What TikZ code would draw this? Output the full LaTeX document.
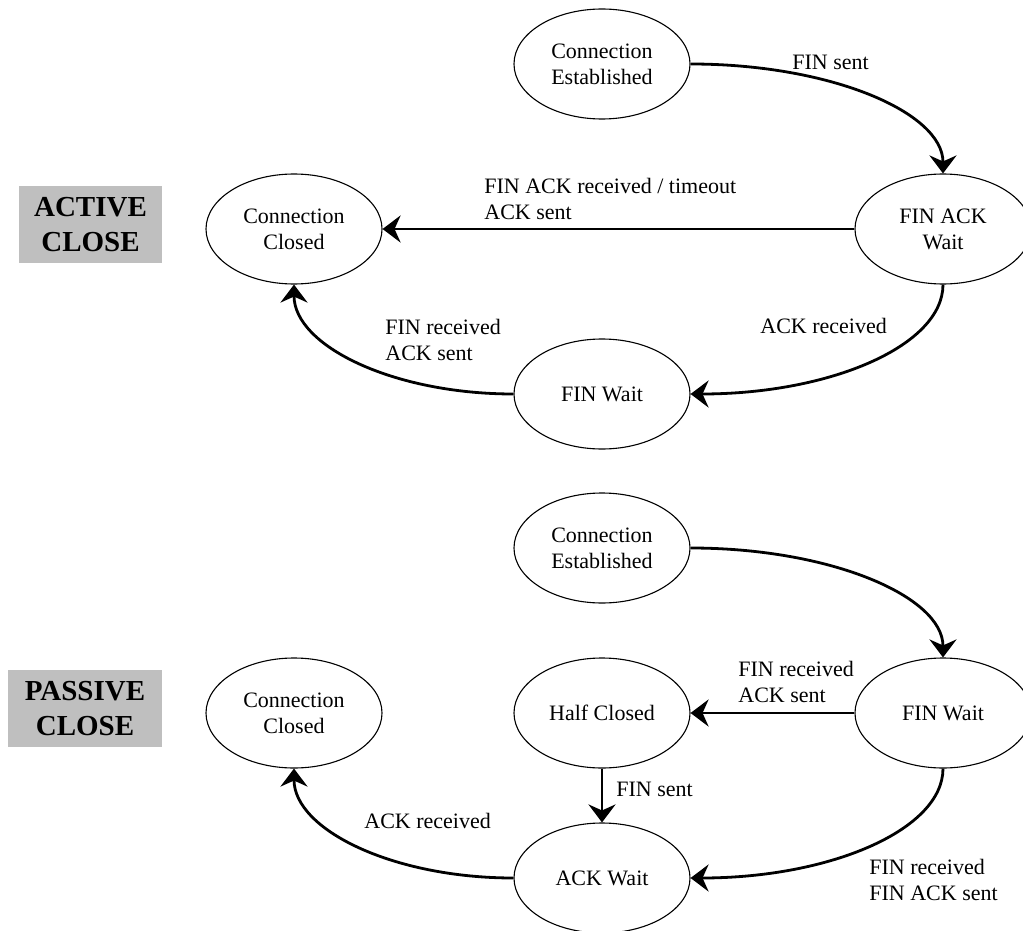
\documentclass[tikz,border=0pt]{standalone}
\usepackage{fontspec}
\setmainfont{Liberation Serif}
\usetikzlibrary{arrows.meta,automata,positioning}
\usetikzlibrary{shapes}

\begin{document}
\begin{tikzpicture}[->,>={Stealth[length=18pt,width=27pt,inset=6pt]},x=1pt,y=1pt,
                    line width=2.8pt,node distance=165pt and 341pt,on grid,
                    font=\fontsize{22}{26}\selectfont]
  \tikzstyle{every state}=[ellipse,fill=white,draw=black,line width=1.1pt,text=black,
                           minimum width=176pt,minimum height=110pt,inner sep=0pt,align=center]
  \tikzstyle{lbl}=[inner sep=0pt,align=left,anchor=west]
  \tikzstyle{side}=[fill=black!25,inner sep=0pt,align=center,minimum height=77pt,
                    font=\fontsize{29}{35}\selectfont\bfseries]

  \useasboundingbox (0,0) rectangle (1023,-931);

  % active close
  \node[side,minimum width=143pt] (ACTIVE) at (90.5,-224.5) {ACTIVE\\CLOSE};
  \node[state]         (ESTAB)   at (602,-64)             {Connection\\Established};
  \node[state]         (FINACK)  [below right=of ESTAB]   {FIN ACK\\Wait};
  \node[state]         (CLOSED)  [left=649pt of FINACK]   {Connection\\Closed};
  \node[state]         (FINWAIT) [below left=of FINACK]   {FIN Wait};

  % passive close
  \node[side,minimum width=154pt] (PASSIVE) at (85,-708.5) {PASSIVE\\CLOSE};
  \node[state]         (ESTABP)  [below=484pt of ESTAB]   {Connection\\Established};
  \node[state]         (FINWAITP)[below right=of ESTABP]  {FIN Wait};
  \node[state]         (HALF)    [below=of ESTABP]        {Half Closed};
  \node[state]         (CLOSEDP) [left=649pt of FINWAITP] {Connection\\Closed};
  \node[state]         (ACKWAIT) [below=of HALF]          {ACK Wait};

  \path (ESTAB)   edge[out=0,in=90,out distance=140pt,in distance=61pt] (FINACK)
        (FINACK)  edge (CLOSED)
                  edge[out=270,in=0,out distance=61pt,in distance=140pt] (FINWAIT)
        (FINWAIT) edge[out=180,in=270,out distance=121pt,in distance=61pt] (CLOSED);

  \path (ESTABP)  edge[out=0,in=90,out distance=140pt,in distance=61pt] (FINWAITP)
        (FINWAITP)edge (HALF)
                  edge[out=270,in=0,out distance=61pt,in distance=140pt] (ACKWAIT)
        (HALF)    edge (ACKWAIT)
        (ACKWAIT) edge[out=180,in=270,out distance=121pt,in distance=61pt] (CLOSEDP);

  \node[lbl] (FINSENT)   at (791,-62)  {FIN sent};
  \node[lbl] (TIMEOUT)   at (483,-199) {FIN ACK received / timeout\\ACK sent};
  \node[lbl] (ACKRCV)    at (759,-326) {ACK received};
  \node[lbl] (FINRCV)    at (384,-340) {FIN received\\ACK sent};

  \node[lbl] (FINRCVP)   at (737,-682) {FIN received\\ACK sent};
  \node[lbl] (FINSENTP)  at (615,-789) {FIN sent};
  \node[lbl] (FINACKP)   at (868,-880) {FIN received\\FIN ACK sent};
  \node[lbl] (ACKRCVP)   at (363,-821) {ACK received};
\end{tikzpicture}
\end{document}
